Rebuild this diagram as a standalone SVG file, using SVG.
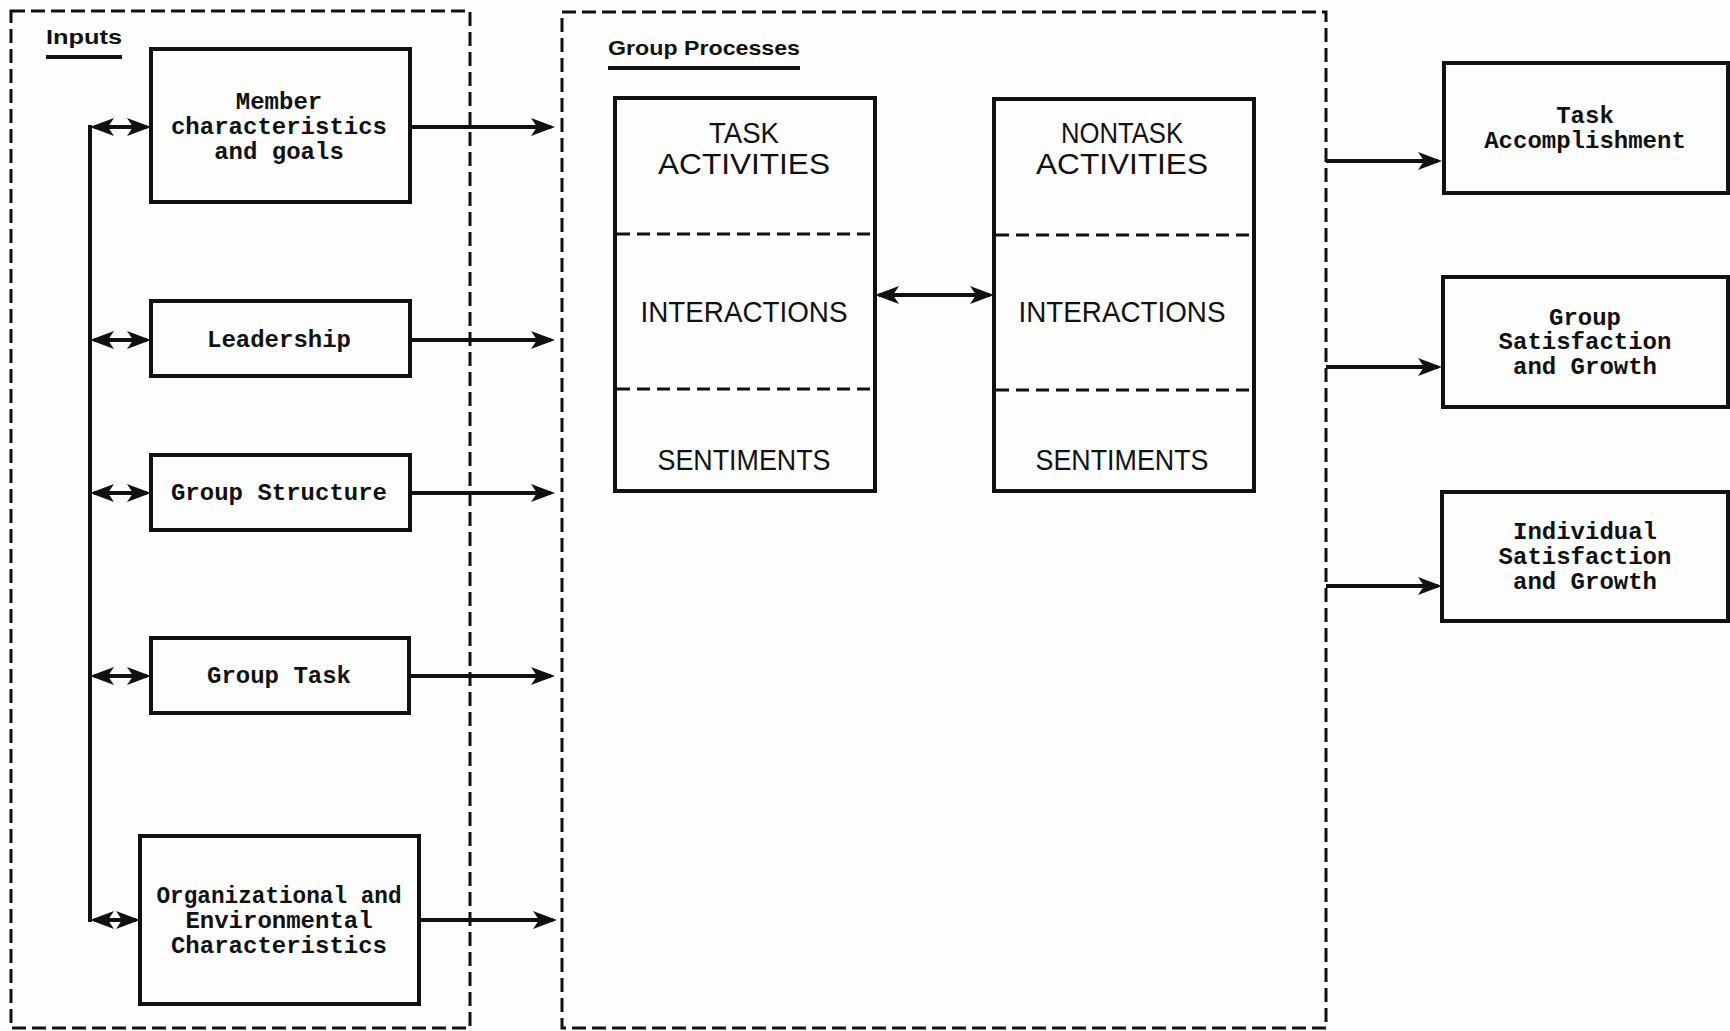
<svg xmlns="http://www.w3.org/2000/svg" width="1730" height="1031" viewBox="0 0 1730 1031">
<style>
.bg{fill:#fdfdfd}
.dash{fill:none;stroke:#111;stroke-width:3;stroke-dasharray:14 6}
.box{fill:none;stroke:#111;stroke-width:4}
.div{fill:none;stroke:#111;stroke-width:3;stroke-dasharray:13 7}
.ln{fill:none;stroke:#111;stroke-width:4}
.lbl{font-family:"Liberation Mono","DejaVu Sans Mono",monospace;font-weight:bold;font-size:24px;fill:#111;text-anchor:middle;dominant-baseline:central}
.cap{font-family:"Liberation Sans",Arial,sans-serif;font-size:30px;fill:#111;text-anchor:middle;dominant-baseline:central}
.hd{font-family:"Liberation Sans",Arial,sans-serif;font-weight:bold;font-size:21px;fill:#111}
</style>
<defs>
<marker id="ah" markerUnits="userSpaceOnUse" viewBox="0 0 24 18" markerWidth="24" markerHeight="18" refX="20" refY="9" orient="auto-start-reverse">
<path d="M0,0 L24,9 L0,18 L6,9 z" fill="#111"/>
</marker>
</defs>
<rect class="bg" x="0" y="0" width="1730" height="1031"/>

<g id="inputs-frame">
<rect class="dash" x="11" y="11" width="459" height="1017"/>
<text class="hd" x="46" y="44" textLength="76" lengthAdjust="spacingAndGlyphs">Inputs</text>
<line class="ln" x1="46" y1="57" x2="122" y2="57" stroke-width="3"/>
</g>

<g id="processes-frame">
<rect class="dash" x="562" y="12" width="764" height="1016"/>
<text class="hd" x="608" y="55" textLength="192" lengthAdjust="spacingAndGlyphs">Group Processes</text>
<line class="ln" x1="608" y1="68" x2="800" y2="68" stroke-width="3"/>
</g>

<g id="member">
<rect class="box" x="151" y="49" width="259" height="153"/>
<text class="lbl" x="279" y="102">Member</text>
<text class="lbl" x="279" y="127">characteristics</text>
<text class="lbl" x="279" y="152">and goals</text>
</g>
<g id="leadership">
<rect class="box" x="151" y="301" width="259" height="75"/>
<text class="lbl" x="279" y="340">Leadership</text>
</g>
<g id="group-structure">
<rect class="box" x="151" y="455" width="259" height="75"/>
<text class="lbl" x="279" y="493">Group Structure</text>
</g>
<g id="group-task">
<rect class="box" x="151" y="638" width="258" height="75"/>
<text class="lbl" x="279" y="676">Group Task</text>
</g>
<g id="org-env">
<rect class="box" x="140" y="836" width="279" height="168"/>
<text class="lbl" x="279" y="896" textLength="245" lengthAdjust="spacingAndGlyphs">Organizational and</text>
<text class="lbl" x="279" y="921">Environmental</text>
<text class="lbl" x="279" y="946">Characteristics</text>
</g>

<g id="task-activities">
<rect class="box" x="615" y="98" width="260" height="393"/>
<line class="div" x1="617" y1="234" x2="873" y2="234"/>
<line class="div" x1="617" y1="389" x2="873" y2="389"/>
<text class="cap" x="744" y="132" textLength="70" lengthAdjust="spacingAndGlyphs">TASK</text>
<text class="cap" x="744" y="163" textLength="172" lengthAdjust="spacingAndGlyphs">ACTIVITIES</text>
<text class="cap" x="744" y="311" textLength="207" lengthAdjust="spacingAndGlyphs">INTERACTIONS</text>
<text class="cap" x="744" y="459" textLength="173" lengthAdjust="spacingAndGlyphs">SENTIMENTS</text>
</g>
<g id="nontask-activities">
<rect class="box" x="994" y="99" width="260" height="392"/>
<line class="div" x1="996" y1="235" x2="1252" y2="235"/>
<line class="div" x1="996" y1="390" x2="1252" y2="390"/>
<text class="cap" x="1122" y="132" textLength="122" lengthAdjust="spacingAndGlyphs">NONTASK</text>
<text class="cap" x="1122" y="163" textLength="172" lengthAdjust="spacingAndGlyphs">ACTIVITIES</text>
<text class="cap" x="1122" y="311" textLength="207" lengthAdjust="spacingAndGlyphs">INTERACTIONS</text>
<text class="cap" x="1122" y="459" textLength="173" lengthAdjust="spacingAndGlyphs">SENTIMENTS</text>
</g>

<g id="task-accomplishment">
<rect class="box" x="1444" y="63" width="284" height="130"/>
<text class="lbl" x="1585" y="116">Task</text>
<text class="lbl" x="1585" y="141">Accomplishment</text>
</g>
<g id="group-satisfaction">
<rect class="box" x="1443" y="277" width="285" height="130"/>
<text class="lbl" x="1585" y="318">Group</text>
<text class="lbl" x="1585" y="342">Satisfaction</text>
<text class="lbl" x="1585" y="367">and Growth</text>
</g>
<g id="individual-satisfaction">
<rect class="box" x="1442" y="492" width="286" height="129"/>
<text class="lbl" x="1585" y="532">Individual</text>
<text class="lbl" x="1585" y="557">Satisfaction</text>
<text class="lbl" x="1585" y="582">and Growth</text>
</g>

<g id="connectors">
<line class="ln" x1="90" y1="125" x2="90" y2="922"/>
<line class="ln" x1="94" y1="127" x2="147" y2="127" marker-start="url(#ah)" marker-end="url(#ah)"/>
<line class="ln" x1="94" y1="340" x2="147" y2="340" marker-start="url(#ah)" marker-end="url(#ah)"/>
<line class="ln" x1="94" y1="493" x2="147" y2="493" marker-start="url(#ah)" marker-end="url(#ah)"/>
<line class="ln" x1="94" y1="676" x2="147" y2="676" marker-start="url(#ah)" marker-end="url(#ah)"/>
<line class="ln" x1="94" y1="920" x2="136" y2="920" marker-start="url(#ah)" marker-end="url(#ah)"/>
<line class="ln" x1="410" y1="127" x2="551" y2="127" marker-end="url(#ah)"/>
<line class="ln" x1="410" y1="340" x2="551" y2="340" marker-end="url(#ah)"/>
<line class="ln" x1="410" y1="493" x2="551" y2="493" marker-end="url(#ah)"/>
<line class="ln" x1="409" y1="676" x2="551" y2="676" marker-end="url(#ah)"/>
<line class="ln" x1="419" y1="920" x2="553" y2="920" marker-end="url(#ah)"/>
<line class="ln" x1="879" y1="295" x2="990" y2="295" marker-start="url(#ah)" marker-end="url(#ah)"/>
<line class="ln" x1="1326" y1="161" x2="1438" y2="161" marker-end="url(#ah)"/>
<line class="ln" x1="1326" y1="367" x2="1438" y2="367" marker-end="url(#ah)"/>
<line class="ln" x1="1326" y1="586" x2="1438" y2="586" marker-end="url(#ah)"/>
</g>
</svg>
